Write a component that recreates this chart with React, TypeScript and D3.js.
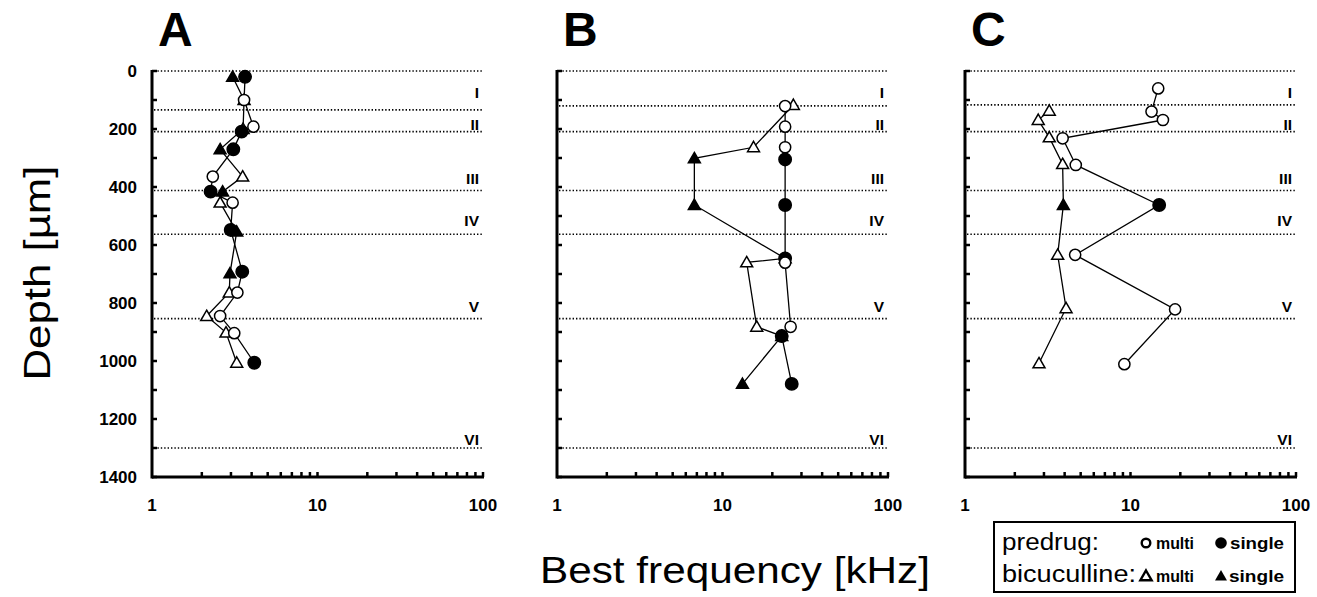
import React from "react";
import * as d3 from "d3";

type Unit = "multi" | "single";
type Pt = { depth: number; freq: number; unit: Unit };

const panelTitles = ["A", "B", "C"];
const depthTicks = [0, 200, 400, 600, 800, 1000, 1200, 1400];
const freqTickLabels = [1, 10, 100];
const layerNames = ["I", "II", "III", "IV", "V", "VI"];
const layerLabelDepths = [93, 203, 390, 534, 831, 1289];
const boundariesA = [0, 134, 209, 412, 563, 854, 1300];
const boundariesB = [0, 120, 209, 412, 563, 854, 1300];
const boundariesC = [0, 117, 209, 412, 563, 854, 1300];

const predrugA: Pt[] = [
  { depth: 20, freq: 3.65, unit: "single" },
  { depth: 100, freq: 3.6, unit: "multi" },
  { depth: 192, freq: 4.1, unit: "multi" },
  { depth: 209, freq: 3.48, unit: "single" },
  { depth: 270, freq: 3.1, unit: "single" },
  { depth: 364, freq: 2.33, unit: "multi" },
  { depth: 416, freq: 2.26, unit: "single" },
  { depth: 454, freq: 3.07, unit: "multi" },
  { depth: 548, freq: 2.99, unit: "single" },
  { depth: 692, freq: 3.51, unit: "single" },
  { depth: 764, freq: 3.28, unit: "multi" },
  { depth: 845, freq: 2.58, unit: "multi" },
  { depth: 904, freq: 3.14, unit: "multi" },
  { depth: 1006, freq: 4.15, unit: "single" },
];
const bicucA: Pt[] = [
  { depth: 20, freq: 3.07, unit: "single" },
  { depth: 100, freq: 3.6, unit: "multi" },
  { depth: 200, freq: 3.55, unit: "multi" },
  { depth: 270, freq: 2.58, unit: "single" },
  { depth: 364, freq: 3.53, unit: "multi" },
  { depth: 416, freq: 2.67, unit: "single" },
  { depth: 454, freq: 2.58, unit: "multi" },
  { depth: 554, freq: 3.25, unit: "single" },
  { depth: 698, freq: 2.96, unit: "single" },
  { depth: 764, freq: 2.93, unit: "multi" },
  { depth: 845, freq: 2.14, unit: "multi" },
  { depth: 902, freq: 2.8, unit: "multi" },
  { depth: 1006, freq: 3.25, unit: "multi" },
];
const predrugB: Pt[] = [
  { depth: 121, freq: 23.9, unit: "multi" },
  { depth: 192, freq: 23.9, unit: "multi" },
  { depth: 263, freq: 23.9, unit: "multi" },
  { depth: 305, freq: 23.9, unit: "single" },
  { depth: 462, freq: 23.9, unit: "single" },
  { depth: 646, freq: 23.9, unit: "single" },
  { depth: 661, freq: 23.9, unit: "multi" },
  { depth: 882, freq: 25.8, unit: "multi" },
  { depth: 914, freq: 22.8, unit: "single" },
  { depth: 1079, freq: 26.2, unit: "single" },
];
const bicucB: Pt[] = [
  { depth: 117, freq: 26.8, unit: "multi" },
  { depth: 263, freq: 15.4, unit: "multi" },
  { depth: 301, freq: 6.76, unit: "single" },
  { depth: 462, freq: 6.76, unit: "single" },
  { depth: 646, freq: 23.9, unit: "single" },
  { depth: 660, freq: 14.0, unit: "multi" },
  { depth: 882, freq: 16.1, unit: "multi" },
  { depth: 914, freq: 22.8, unit: "single" },
  { depth: 1079, freq: 13.2, unit: "single" },
];
const predrugC: Pt[] = [
  { depth: 60, freq: 14.7, unit: "multi" },
  { depth: 140, freq: 13.4, unit: "multi" },
  { depth: 169, freq: 15.7, unit: "multi" },
  { depth: 232, freq: 3.89, unit: "multi" },
  { depth: 324, freq: 4.67, unit: "multi" },
  { depth: 462, freq: 14.9, unit: "single" },
  { depth: 634, freq: 4.63, unit: "multi" },
  { depth: 822, freq: 18.6, unit: "multi" },
  { depth: 1011, freq: 9.18, unit: "multi" },
];
const bicucC: Pt[] = [
  { depth: 137, freq: 3.23, unit: "multi" },
  { depth: 169, freq: 2.77, unit: "multi" },
  { depth: 229, freq: 3.23, unit: "multi" },
  { depth: 321, freq: 3.89, unit: "multi" },
  { depth: 462, freq: 3.93, unit: "single" },
  { depth: 634, freq: 3.63, unit: "multi" },
  { depth: 818, freq: 4.08, unit: "multi" },
  { depth: 1008, freq: 2.8, unit: "multi" },
];

const panels = [
  { title: panelTitles[0], bounds: boundariesA, pre: predrugA, bic: bicucA },
  { title: panelTitles[1], bounds: boundariesB, pre: predrugB, bic: bicucB },
  { title: panelTitles[2], bounds: boundariesC, pre: predrugC, bic: bicucC },
];

const FONT = "'Liberation Sans', Arial, Helvetica, sans-serif";
const panelX = [152, 557, 965];
const panelW = 331;
const yTop = 71;
const yBot = 477;

const triPath = (size: number) => d3.symbol(d3.symbolTriangle, size)() || "";

const minorFreqs: number[] = [];
[1, 10].forEach((dec) => {
  for (let k = 2; k <= 9; k++) minorFreqs.push(dec * k);
});

function Panel({ idx }: { idx: number }) {
  const p = panels[idx];
  const x0 = panelX[idx];
  const x = d3.scaleLog().domain([1, 100]).range([x0, x0 + panelW]);
  const y = d3.scaleLinear().domain([0, 1400]).range([yTop, yBot]);
  const line = d3
    .line<Pt>()
    .x((d) => x(d.freq))
    .y((d) => y(d.depth));
  const yMinor = d3.range(0, 1401, 100);
  return (
    <g>
      <text x={x0 + 6} y={46} fontFamily={FONT} fontWeight="bold" fontSize={48}>
        {p.title}
      </text>
      {p.bounds.map((b, i) => (
        <line
          key={"b" + i}
          x1={x0 + 2}
          x2={x(100)}
          y1={y(b)}
          y2={y(b)}
          stroke="#000"
          strokeWidth={1.7}
          strokeDasharray="1.4 2.0"
        />
      ))}
      {layerNames.map((n, i) => (
        <text
          key={"l" + i}
          x={x(100) - 4}
          y={y(layerLabelDepths[i])}
          textAnchor="end"
          fontFamily={FONT}
          fontWeight="bold"
          fontSize={15.5}
        >
          {n}
        </text>
      ))}
      <line x1={x0} x2={x0} y1={yTop - 1} y2={yBot + 1.5} stroke="black" strokeWidth={3} />
      <line x1={x0} x2={x(100) + 1} y1={yBot} y2={yBot} stroke="black" strokeWidth={3} />
      {yMinor.map((v) => (
        <line key={"yt" + v} x1={x0} x2={x0 + 5} y1={y(v)} y2={y(v)} stroke="black" strokeWidth={2.5} />
      ))}
      {minorFreqs.concat([10, 100]).map((f) => (
        <line key={"xt" + f} x1={x(f)} x2={x(f)} y1={yBot} y2={yBot - 5} stroke="black" strokeWidth={2.5} />
      ))}
      {idx === 0 &&
        depthTicks.map((v) => (
          <text
            key={"yl" + v}
            x={x0 - 15}
            y={y(v) + 6}
            textAnchor="end"
            fontFamily={FONT}
            fontWeight="bold"
            fontSize={17}
          >
            {v}
          </text>
        ))}
      {freqTickLabels.map((f) => (
        <text
          key={"xl" + f}
          x={x(f)}
          y={511}
          textAnchor="middle"
          fontFamily={FONT}
          fontWeight="bold"
          fontSize={17}
        >
          {f}
        </text>
      ))}
      <path d={line(p.bic) || ""} fill="none" stroke="black" strokeWidth={1.3} />
      <path d={line(p.pre) || ""} fill="none" stroke="black" strokeWidth={1.3} />
      {p.bic.map((d, i) => (
        <path
          key={"t" + i}
          d={triPath(62)}
          transform={`translate(${x(d.freq)},${y(d.depth) + 1})`}
          fill={d.unit === "single" ? "black" : "white"}
          stroke="black"
          strokeWidth={1.5}
        />
      ))}
      {p.pre.map((d, i) => (
        <circle
          key={"c" + i}
          cx={x(d.freq)}
          cy={y(d.depth)}
          r={d.unit === "single" ? 6.2 : 5.6}
          fill={d.unit === "single" ? "black" : "white"}
          stroke="black"
          strokeWidth={1.5}
        />
      ))}
    </g>
  );
}

export default function App() {
  return (
    <svg width={1317} height={597} style={{ position: "absolute", left: 0, top: 0, background: "white" }}>
      <rect x={0} y={0} width={1317} height={597} fill="white" />
      {panels.map((_, i) => (
        <Panel key={i} idx={i} />
      ))}
      <text
        transform="translate(50,273) rotate(-90)"
        textAnchor="middle"
        fontFamily={FONT}
        fontSize={37}
        textLength={215}
        lengthAdjust="spacingAndGlyphs"
      >
        Depth [µm]
      </text>
      <text
        x={735}
        y={583}
        textAnchor="middle"
        fontFamily={FONT}
        fontSize={37}
        textLength={390}
        lengthAdjust="spacingAndGlyphs"
      >
        Best frequency [kHz]
      </text>
      <rect x={994} y={522} width={301} height={70} fill="white" stroke="black" strokeWidth={2} />
      <text x={1002} y={550} fontFamily={FONT} fontSize={23} textLength={97} lengthAdjust="spacingAndGlyphs">
        predrug:
      </text>
      <text x={1002} y={582} fontFamily={FONT} fontSize={23} textLength={134} lengthAdjust="spacingAndGlyphs">
        bicuculline:
      </text>
      <circle cx={1146} cy={543} r={4.3} fill="white" stroke="black" strokeWidth={2.4} />
      <text x={1156} y={549} fontFamily={FONT} fontWeight="bold" fontSize={17} textLength={38} lengthAdjust="spacingAndGlyphs">
        multi
      </text>
      <circle cx={1221} cy={543} r={5.8} fill="black" />
      <text x={1230} y={549} fontFamily={FONT} fontWeight="bold" fontSize={17} textLength={54} lengthAdjust="spacingAndGlyphs">
        single
      </text>
      <path d={triPath(55)} transform="translate(1146,577)" fill="white" stroke="black" strokeWidth={2.4} />
      <text x={1156} y={582} fontFamily={FONT} fontWeight="bold" fontSize={17} textLength={38} lengthAdjust="spacingAndGlyphs">
        multi
      </text>
      <path d={triPath(62)} transform="translate(1221,577)" fill="black" />
      <text x={1229} y={582} fontFamily={FONT} fontWeight="bold" fontSize={17} textLength={55} lengthAdjust="spacingAndGlyphs">
        single
      </text>
    </svg>
  );
}
